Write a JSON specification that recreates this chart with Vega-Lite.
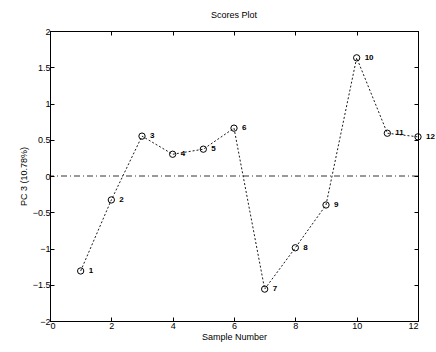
{
  "$schema": "https://vega.github.io/schema/vega-lite/v6.json",
  "autosize": "none",
  "width": 368,
  "height": 290,
  "padding": {"left": 50, "top": 31, "right": 18, "bottom": 31},
  "background": "white",
  "title": {"text": "Scores Plot", "font": "Liberation Sans", "fontSize": 9, "fontWeight": "normal", "color": "black", "offset": 7},
  "config": {
    "view": {"stroke": "black", "strokeWidth": 1},
    "axis": {
      "domainColor": "black", "ticks": true, "tickColor": "black", "tickWidth": 1, "labelColor": "black", "titleColor": "black",
      "labelFont": "Liberation Sans", "titleFont": "Liberation Sans",
      "labelFontSize": 9, "titleFontSize": 9, "titleFontWeight": "normal",
      "grid": false, "tickSize": -4, "labelPadding": 4, "format": "~g"
    }
  },
  "data": {"values": [
    {"sample": 1, "pc3": -1.31},
    {"sample": 2, "pc3": -0.33},
    {"sample": 3, "pc3": 0.55},
    {"sample": 4, "pc3": 0.30},
    {"sample": 5, "pc3": 0.37},
    {"sample": 6, "pc3": 0.66},
    {"sample": 7, "pc3": -1.56},
    {"sample": 8, "pc3": -0.99},
    {"sample": 9, "pc3": -0.40},
    {"sample": 10, "pc3": 1.63},
    {"sample": 11, "pc3": 0.59},
    {"sample": 12, "pc3": 0.54}
  ]},
  "encoding": {
    "x": {"field": "sample", "type": "quantitative", "scale": {"domain": [0, 12], "nice": false, "zero": false},
      "axis": {"title": "Sample Number", "values": [0, 2, 4, 6, 8, 10, 12], "titlePadding": 2, "tickSize": -4}},
    "y": {"field": "pc3", "type": "quantitative", "scale": {"domain": [-2, 2], "nice": false},
      "axis": {"title": "PC 3 (10.78%)", "values": [-2, -1.5, -1, -0.5, 0, 0.5, 1, 1.5, 2], "titlePadding": 4, "tickSize": -4}}
  },
  "layer": [
    {
      "mark": {"type": "line", "color": "black", "strokeWidth": 0.9, "strokeDash": [2, 2]}
    },
    {
      "mark": {"type": "point", "opacity": 0},
      "encoding": {
        "x": {"field": "sample", "type": "quantitative", "axis": {"orient": "top", "labels": false, "title": null, "ticks": true, "tickSize": -4, "values": [0, 2, 4, 6, 8, 10, 12]}},
        "y": {"field": "pc3", "type": "quantitative", "axis": {"orient": "right", "labels": false, "title": null, "ticks": true, "tickSize": -4, "values": [-2, -1.5, -1, -0.5, 0, 0.5, 1, 1.5, 2]}}
      }
    },
    {
      "mark": {"type": "rule", "color": "black", "strokeWidth": 0.8, "strokeDash": [6, 3, 1, 3]},
      "data": {"values": [{"zero": 0}]},
      "encoding": {"x": null, "y": {"field": "zero", "type": "quantitative", "axis": null}}
    },
    {
      "mark": {"type": "point", "shape": "circle", "filled": false, "color": "black", "size": 40, "strokeWidth": 1, "opacity": 1},
      "encoding": {
        "x": {"field": "sample", "type": "quantitative", "axis": null},
        "y": {"field": "pc3", "type": "quantitative", "axis": null}
      }
    },
    {
      "mark": {"type": "text", "align": "left", "baseline": "middle", "dx": 8, "font": "Liberation Sans", "fontSize": 8, "fontWeight": "bold", "color": "black"},
      "encoding": {
        "x": {"field": "sample", "type": "quantitative", "axis": null},
        "y": {"field": "pc3", "type": "quantitative", "axis": null},
        "text": {"field": "sample", "type": "nominal"}
      }
    }
  ],
  "resolve": {"axis": {"x": "independent", "y": "independent"}}
}
